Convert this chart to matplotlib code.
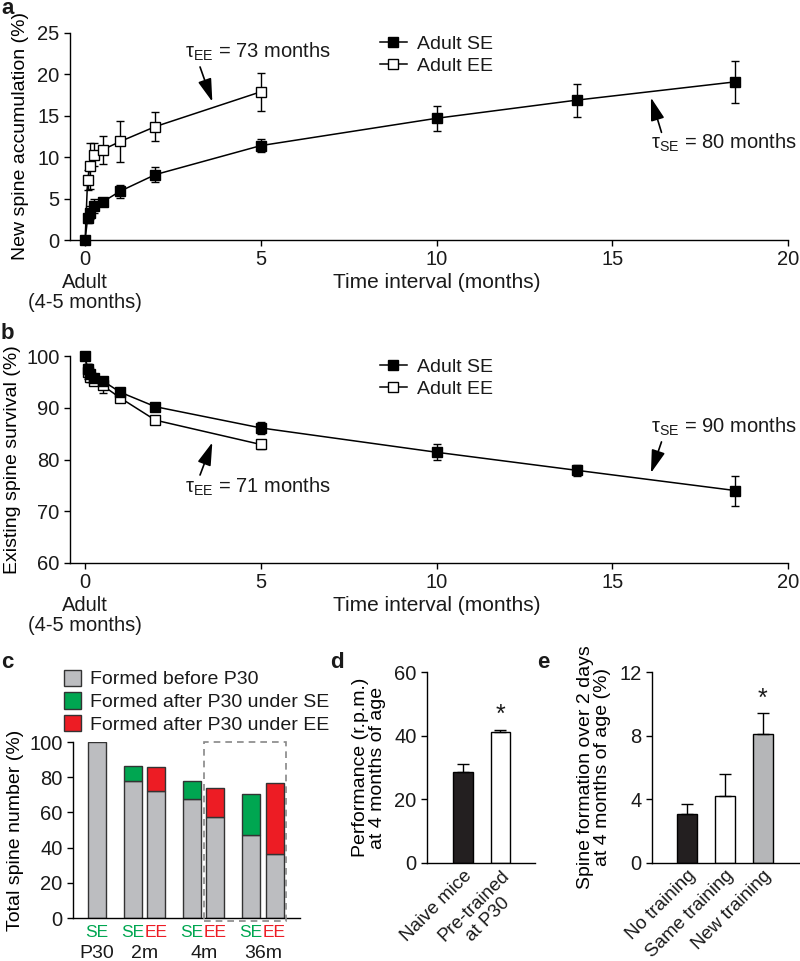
import matplotlib
matplotlib.use("Agg")
import matplotlib.pyplot as plt
from matplotlib.patches import Rectangle, Patch
from matplotlib.lines import Line2D
import matplotlib.transforms as mtrans

plt.rcParams['font.family'] = ['Liberation Sans', 'DejaVu Sans']
plt.rcParams['mathtext.fontset'] = 'custom'
plt.rcParams['mathtext.rm'] = 'Liberation Sans'
plt.rcParams['mathtext.it'] = 'Liberation Sans:italic'
plt.rcParams['font.size'] = 14
plt.rcParams['axes.linewidth'] = 1.0
plt.rcParams['xtick.major.width'] = 1.0
plt.rcParams['ytick.major.width'] = 1.0
plt.rcParams['xtick.major.size'] = 4.5
plt.rcParams['ytick.major.size'] = 4.5
plt.rcParams['text.color'] = '#1a1a1a'
plt.rcParams['xtick.labelcolor'] = '#1a1a1a'
plt.rcParams['ytick.labelcolor'] = '#1a1a1a'

# ---------------- data ----------------
# panel a: new spine accumulation (%)
a_x_se = [0, 0.07, 0.14, 0.25, 0.5, 1, 2, 5, 10, 14, 18.5]
a_se = [0, 2.6, 3.3, 4.1, 4.6, 5.9, 7.9, 11.4, 14.7, 16.9, 19.1]
a_se_err = [0, 0.5, 0.8, 0.8, 0.3, 0.8, 0.9, 0.8, 1.5, 2.0, 2.5]
a_x_ee = [0, 0.07, 0.14, 0.25, 0.5, 1, 2, 5]
a_ee = [0, 7.2, 8.9, 10.3, 10.9, 11.9, 13.7, 17.9]
a_ee_err = [0, 1.2, 2.8, 1.4, 1.7, 2.5, 1.7, 2.3]

# panel b: existing spine survival (%)
b_x_se = [0, 0.07, 0.14, 0.25, 0.5, 1, 2, 5, 10, 14, 18.5]
b_se = [100, 97.5, 96.5, 95.8, 95.2, 93.0, 90.2, 86.1, 81.4, 77.9, 74.0]
b_se_err = [0, 1.0, 0.8, 0.5, 0.7, 0.5, 0.6, 1.2, 1.5, 1.1, 2.9]
b_x_ee = [0, 0.07, 0.14, 0.25, 0.5, 1, 2, 5]
b_ee = [100, 97.0, 96.0, 95.2, 94.3, 91.9, 87.6, 82.9]
b_ee_err = [0, 1.5, 1.0, 0.6, 1.4, 0.5, 0.8, 0.8]

# panel c: total spine number (%)
c_conditions = ['SE', 'SE', 'EE', 'SE', 'EE', 'SE', 'EE']
c_groups = ['P30', '2m', '4m', '36m']
c_before = [100, 77.6, 72.2, 67.5, 57.6, 47.1, 36.3]
c_after = [0, 8.5, 13.4, 10.4, 16.5, 23.1, 40.5]

# panel d
d_labels = ['Naive mice', 'Pre-trained\nat P30']
d_values = [28.7, 41.2]
d_err = [2.4, 0.6]

# panel e
e_labels = ['No training', 'Same training', 'New training']
e_values = [3.1, 4.2, 8.1]
e_err = [0.6, 1.4, 1.3]

# ---------------- figure ----------------
W, H = 800, 961
fig = plt.figure(figsize=(W / 100, H / 100), dpi=100)


def px_axes(l, r, t, b):
    return fig.add_axes([l / W, 1 - b / H, (r - l) / W, (b - t) / H])


GREEN = '#00a651'
RED = '#ed1c24'
GRAY = '#bcbdc0'
AXFS = 14.5


def style(ax):
    ax.spines['top'].set_visible(False)
    ax.spines['right'].set_visible(False)
    ax.tick_params(direction='out', pad=3, labelsize=AXFS)


def timecourse(ax, xs, ys, es, xe, ye, ee):
    ax.plot(xe, ye, '-', color='k', lw=1.1, zorder=2)
    ax.plot(xs, ys, '-', color='k', lw=1.1, zorder=2)
    ax.errorbar(xe[1:], ye[1:], yerr=ee[1:], fmt='s', mfc='white', mec='k',
                ms=6.5, mew=1.0, ecolor='k', elinewidth=1.0, capsize=3,
                capthick=1.0, zorder=3, clip_on=False)
    ax.errorbar(xs, ys, yerr=es, fmt='s', mfc='k', mec='k',
                ms=6.5, mew=1.0, ecolor='k', elinewidth=1.0, capsize=3,
                capthick=1.0, zorder=4, clip_on=False)
    ax.set_xlim(-0.43, 20)
    ax.set_xticks([0, 5, 10, 15, 20])
    tr = mtrans.blended_transform_factory(ax.transData, ax.transAxes)
    ax.text(0, -0.205, 'Adult', transform=tr, ha='center', va='center', fontsize=AXFS)
    ax.text(0, -0.30, '(4-5 months)', transform=tr, ha='center', va='center',
            fontsize=AXFS)
    ax.text(10, -0.205, 'Time interval (months)', transform=tr,
            ha='center', va='center', fontsize=AXFS + 0.5)
    handles = [Line2D([], [], color='k', marker='s', mfc='k', mec='k', ms=6.5, lw=1.1),
               Line2D([], [], color='k', marker='s', mfc='white', mec='k', ms=6.5, lw=1.1)]
    ax.legend(handles, ['Adult SE', 'Adult EE'], loc='upper left',
              bbox_to_anchor=(0.418, 1.035), frameon=False, handlelength=1.4,
              handletextpad=0.5, labelspacing=0.2, borderpad=0, fontsize=14)


def tau(ax, x, y, sub, rest):
    ax.text(x, y, r'τ$_{\mathrm{' + sub + '}}$ = ' + rest, ha='left', va='center',
            fontsize=14.5)


def arrow(ax, tail, head):
    ax.annotate('', xy=head, xytext=tail,
                arrowprops=dict(arrowstyle='-|>,head_length=1.0,head_width=0.3',
                                color='k', lw=1.2, mutation_scale=14,
                                shrinkA=0, shrinkB=0))


# ---- panel a ----
axa = px_axes(70, 788, 33, 240)
style(axa)
timecourse(axa, a_x_se, a_se, a_se_err, a_x_ee, a_ee, a_ee_err)
axa.set_ylim(0, 25)
axa.set_yticks([0, 5, 10, 15, 20, 25])
axa.set_ylabel('New spine accumulation (%)', labelpad=6, fontsize=14)
tau(axa, 2.84, 22.7, 'EE', '73 months')
arrow(axa, (3.27, 20.9), (3.62, 16.7))
tau(axa, 16.1, 11.7, 'SE', '80 months')
arrow(axa, (16.4, 13.0), (16.1, 17.2))
fig.text(1 / W, 1 - 9 / H, 'a', fontsize=16, fontweight='bold', ha='left', va='center')

# ---- panel b ----
axb = px_axes(70, 788, 356, 563)
style(axb)
timecourse(axb, b_x_se, b_se, b_se_err, b_x_ee, b_ee, b_ee_err)
axb.set_ylim(60, 100)
axb.set_yticks([60, 70, 80, 90, 100])
axb.set_ylabel('Existing spine survival (%)', labelpad=4, fontsize=14)
tau(axb, 2.84, 74.7, 'EE', '71 months')
arrow(axb, (3.27, 77.0), (3.62, 83.3))
tau(axb, 16.1, 86.4, 'SE', '90 months')
arrow(axb, (16.4, 83.4), (16.1, 77.4))
fig.text(1 / W, 1 - 334 / H, 'b', fontsize=16, fontweight='bold', ha='left', va='center')

# ---- panel c ----
axc = px_axes(73, 300, 742, 918)
style(axc)
group_centers = [0, 2.65, 5.93, 9.22]
c_pos = [group_centers[0]]
for g in group_centers[1:]:
    c_pos += [g - 0.65, g + 0.65]
top_colors = [GREEN if c == 'SE' else RED for c in c_conditions]
axc.bar(c_pos, c_before, width=1.0, color=GRAY, edgecolor='#333333', lw=1.0, zorder=2)
axc.bar(c_pos[1:], c_after[1:], bottom=c_before[1:], width=1.0, color=top_colors[1:],
        edgecolor='#333333', lw=1.0, zorder=2)
axc.set_xlim(-1.33, 11.28)
axc.set_ylim(0, 100)
axc.set_yticks([0, 20, 40, 60, 80, 100])
axc.set_xticks([])
axc.set_ylabel('Total spine number (%)', labelpad=4, fontsize=14)
axc.add_patch(Rectangle((5.94, -1.8), 10.5 - 5.94, 101.8, fill=False,
                        ls=(0, (4, 3)), ec='#888888', lw=1.2, clip_on=False, zorder=3))
trc = mtrans.blended_transform_factory(axc.transData, axc.transAxes)
for p, c, col in zip(c_pos, c_conditions, top_colors):
    axc.text(p, -0.085, c, color=col, transform=trc, ha='center', va='center',
             fontsize=12.5)
for g, lab in zip(group_centers, c_groups):
    axc.text(g, -0.2, lab, transform=trc, ha='center', va='center', fontsize=14)
leg_handles = [Patch(fc=GRAY, ec='#333333', lw=1.0),
               Patch(fc=GREEN, ec='#333333', lw=1.0),
               Patch(fc=RED, ec='#333333', lw=1.0)]
fig.legend(leg_handles, ['Formed before P30', 'Formed after P30 under SE',
                         'Formed after P30 under EE'],
           loc='upper left', bbox_to_anchor=(54 / W, 1 - 660 / H), frameon=False,
           handlelength=0.9, handleheight=0.9, handletextpad=0.45,
           labelspacing=0.2, borderpad=0, fontsize=14)
fig.text(1 / W, 1 - 663 / H, 'c', fontsize=16, fontweight='bold', ha='left', va='center')

# ---- panel d ----
axd = px_axes(427, 535, 672, 863)
style(axd)
axd.bar([0, 1], d_values, width=0.53, color=['#231f20', 'white'], edgecolor='k', lw=1.0,
        yerr=[[0, 0], d_err], capsize=4, error_kw=dict(elinewidth=1.0, capthick=1.0))
axd.set_xlim(-0.96, 1.92)
axd.set_ylim(0, 60)
axd.set_yticks([0, 20, 40, 60])
axd.set_xticks([0, 1])
axd.set_xticklabels(d_labels, rotation=45, ha='right', rotation_mode='anchor',
                    multialignment='center', fontsize=13.5)
axd.tick_params(axis='x', length=0, pad=3)
axd.set_ylabel('Performance (r.p.m.)\nat 4 months of age', linespacing=1.0, labelpad=6,
               fontsize=14)
axd.text(1, 46.5, '*', ha='center', va='center', fontsize=18)
fig.text(330 / W, 1 - 662 / H, 'd', fontsize=16, fontweight='bold', ha='left', va='center')

# ---- panel e ----
axe = px_axes(652, 799, 672, 863)
style(axe)
axe.bar([0, 1, 2], e_values, width=0.53, color=['#231f20', 'white', '#b5b6b8'],
        edgecolor='k', lw=1.0, yerr=[[0, 0, 0], e_err], capsize=4,
        error_kw=dict(elinewidth=1.0, capthick=1.0))
axe.set_xlim(-0.92, 2.95)
axe.set_ylim(0, 12)
axe.set_yticks([0, 4, 8, 12])
axe.set_xticks([0, 1, 2])
axe.set_xticklabels(e_labels, rotation=45, ha='right', rotation_mode='anchor',
                    fontsize=13.5)
axe.tick_params(axis='x', length=0, pad=3)
axe.set_ylabel('Spine formation over 2 days\nat 4 months of age (%)', linespacing=1.0,
               labelpad=6, fontsize=14)
axe.text(2, 10.3, '*', ha='center', va='center', fontsize=18)
fig.text(537 / W, 1 - 662 / H, 'e', fontsize=16, fontweight='bold', ha='left', va='center')

fig.savefig('out.png', dpi=100)
